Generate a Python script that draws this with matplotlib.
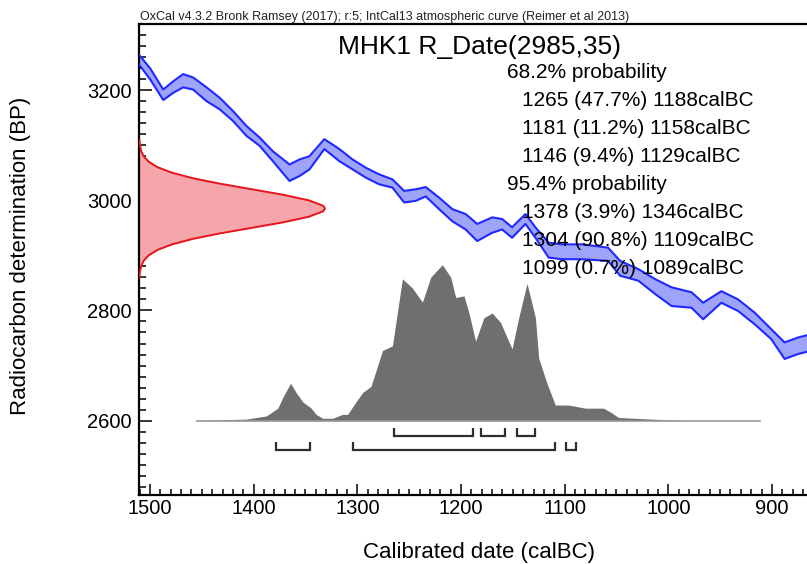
import matplotlib
matplotlib.use('Agg')
import numpy as np
import matplotlib.pyplot as plt
from matplotlib.ticker import MultipleLocator
from matplotlib.transforms import blended_transform_factory

plt.rcParams['font.family'] = ['Liberation Sans', 'DejaVu Sans']

# --- data ---

# IntCal13 band (calBC, upper / lower edge in BP)
curve_dates = [1515, 1509.6, 1500, 1487.2, 1477.6, 1468.0, 1458.4, 1445.5, 1432.7, 1419.9,
               1407.0, 1394.3, 1381.5, 1365.4, 1355.8, 1346.2, 1331.8, 1317.3, 1304.5, 1291.7,
               1278.9, 1266.1, 1254.8, 1243.6, 1234.0, 1221.2, 1208.4, 1195.5, 1184.3, 1169.9,
               1160.3, 1150.7, 1137.8, 1128.2, 1115.4, 1102.6, 1083.4, 1058.1, 1046.5, 1028.9,
               1012.8, 996.8, 977.6, 966.4, 948.8, 932.7, 916.7, 900.7, 887.8, 874.7,
               868.3, 860]
curve_upper = [3275, 3262, 3240, 3201, 3216, 3229, 3223, 3205, 3186, 3162,
               3135, 3114, 3089, 3065, 3074, 3080, 3111, 3093, 3074, 3059,
               3047, 3038, 3017, 3020, 3024, 3005, 2984, 2975, 2957, 2969,
               2966, 2951, 2975, 2951, 2923, 2920, 2920, 2914, 2890, 2875,
               2857, 2842, 2833, 2814, 2835, 2820, 2796, 2766, 2742, 2751,
               2754, 2758]
curve_lower = [3256, 3244, 3220, 3182, 3195, 3205, 3201, 3180, 3165, 3144,
               3117, 3099, 3071, 3035, 3044, 3056, 3093, 3071, 3056, 3041,
               3029, 3023, 2996, 2999, 3007, 2984, 2962, 2947, 2926, 2941,
               2947, 2932, 2957, 2932, 2896, 2893, 2893, 2890, 2863, 2854,
               2830, 2808, 2805, 2784, 2814, 2799, 2775, 2748, 2712, 2721,
               2724, 2728]

# radiocarbon date R_Date(2985,35): BP and relative height
rdate_bp = [2860, 2870, 2880, 2890, 2900, 2910, 2920, 2930, 2940, 2950, 2960, 2970, 2980, 2985,
            2990, 3000, 3010, 3020, 3030, 3040, 3050, 3060, 3070, 3080, 3090, 3100, 3110]
rdate_p = [0.002, 0.005, 0.011, 0.025, 0.052, 0.10, 0.178, 0.29, 0.437, 0.607, 0.775, 0.912, 0.99, 1.0,
           0.99, 0.912, 0.775, 0.607, 0.437, 0.29, 0.178, 0.10, 0.052, 0.025, 0.011, 0.005, 0.002]

# calibrated probability (calBC, relative)
cal_dates = [1455.1, 1407.0, 1387.8, 1376.7, 1371.8, 1364.4, 1359.0, 1352.6, 1344.5, 1339.7,
             1333.4, 1323.8, 1314.2, 1309.4, 1301.3, 1294.9, 1286.8, 1275.7, 1266.1, 1256.5,
             1246.8, 1237.2, 1229.2, 1218.0, 1209.9, 1205.1, 1197.1, 1192.3, 1185.9, 1177.9,
             1169.9, 1161.9, 1150.7, 1144.3, 1136.3, 1128.2, 1125.0, 1117.1, 1109.0, 1096.2,
             1080.1, 1062.5, 1054.6, 1048.1, 1016.1, 984.0, 911.9]
cal_p = [0, 0.01, 0.03, 0.08, 0.15, 0.24, 0.18, 0.12, 0.08, 0.04,
         0.015, 0.015, 0.04, 0.04, 0.12, 0.18, 0.22, 0.45, 0.48, 0.91,
         0.85, 0.76, 0.92, 1.0, 0.92, 0.79, 0.80, 0.69, 0.51, 0.66,
         0.69, 0.63, 0.46, 0.66, 0.88, 0.66, 0.40, 0.24, 0.10, 0.10,
         0.08, 0.08, 0.05, 0.02, 0.01, 0, 0]

# ranges
ranges_68 = [(1265, 1188, 47.7), (1181, 1158, 11.2), (1146, 1129, 9.4)]
ranges_95 = [(1378, 1346, 3.9), (1304, 1109, 90.8), (1099, 1089, 0.7)]

# --- figure ---
W, H = 807, 564
fig = plt.figure(figsize=(W / 100, H / 100), dpi=100)
ax = fig.add_axes([139 / W, 1 - 495 / H, (W - 139) / W, (495 - 24) / H])
ax.set_xlim(1510.6, 866.2)
ax.set_ylim(2465, 3320)

# calibration curve band
ax.fill_between(curve_dates, curve_lower, curve_upper, color='#9ea4fa', lw=0, zorder=2)
ax.plot(curve_dates, curve_upper, color='#1f28ff', lw=1.5, solid_joinstyle='round', zorder=3)
ax.plot(curve_dates, curve_lower, color='#1f28ff', lw=1.5, solid_joinstyle='round', zorder=3)

# radiocarbon date on the y axis
trans = blended_transform_factory(ax.transAxes, ax.transData)
red_x = np.array(rdate_p) * (186 / (W - 139))
ax.fill_betweenx(rdate_bp, 0, red_x, transform=trans, color='#f6a6ab', lw=0, zorder=2)
ax.plot(red_x, rdate_bp, transform=trans, color='#e8141c', lw=1.4, solid_joinstyle='round', zorder=3)

# calibrated distribution
base = 2600
scale = 283
ax.fill_between(cal_dates, base, base + np.array(cal_p) * scale, color='#6f6f6f', lw=0, zorder=2)
ax.plot([cal_dates[0], cal_dates[-1]], [base, base], color='#9a9a9a', lw=1.2, zorder=2)

# range brackets
for rng, top, bot in [(ranges_68, 2586, 2573), (ranges_95, 2561, 2546)]:
    for a, b, _ in rng:
        ax.plot([a, a, b, b], [top, bot, bot, top], color='#2e2e2e', lw=1.6,
                solid_joinstyle='miter', solid_capstyle='butt', zorder=3)

# axes style
for s in ['left', 'bottom', 'top']:
    ax.spines[s].set_linewidth(1.6)
ax.spines['right'].set_visible(False)
ax.xaxis.set_major_locator(MultipleLocator(100))
ax.xaxis.set_minor_locator(MultipleLocator(10))
ax.yaxis.set_major_locator(MultipleLocator(200))
ax.yaxis.set_minor_locator(MultipleLocator(20))
ax.tick_params(which='both', direction='in', width=1.1, top=False, right=False, labelsize=14.5)
ax.tick_params(axis='x', which='major', length=8, pad=3)
ax.tick_params(axis='x', which='minor', length=4)
ax.tick_params(axis='y', which='major', length=9, pad=5)
ax.tick_params(axis='y', which='minor', length=5)

# texts
fig.text(140 / W, 1 - 20 / H,
         'OxCal v4.3.2 Bronk Ramsey (2017); r:5; IntCal13 atmospheric curve (Reimer et al 2013)',
         fontsize=9, ha='left', va='baseline', color='#222222')
fig.text(479 / W, 1 - 54 / H, 'MHK1 R_Date(2985,35)', fontsize=19, ha='center', va='baseline')

lines = [('68.2% probability', 0)]
lines += [(f'{a} ({p}%) {b}calBC', 1) for a, b, p in ranges_68]
lines += [('95.4% probability', 0)]
lines += [(f'{a} ({p}%) {b}calBC', 1) for a, b, p in ranges_95]
for i, (txt, ind) in enumerate(lines):
    y = 78.2 + i * 27.9
    fig.text((507 + 15 * ind) / W, 1 - y / H, txt, fontsize=15, ha='left', va='baseline', zorder=5)

fig.text(479 / W, 1 - 558 / H, 'Calibrated date (calBC)', fontsize=16, ha='center', va='baseline')
fig.text(21 / W, 1 - 256 / H, 'Radiocarbon determination (BP)', fontsize=16,
         rotation=90, ha='center', va='center')

fig.savefig('out.png', dpi=100)
